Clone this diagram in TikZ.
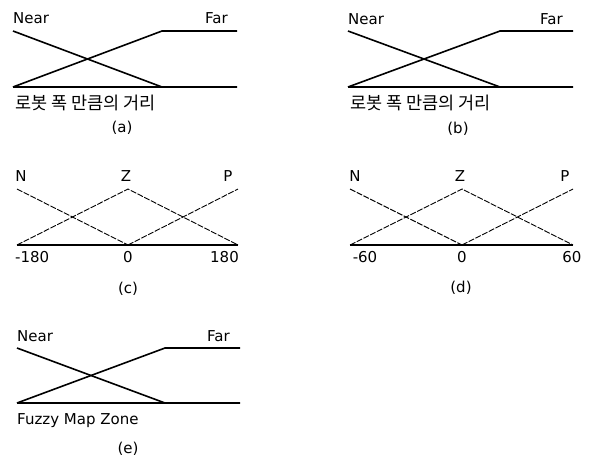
\documentclass[tikz,border=0pt]{standalone}
\usepackage{fontspec}
\setmainfont{DejaVu Sans}
\newfontfamily\kofont{Noto Sans CJK KR}
\usetikzlibrary{positioning}

\begin{document}
\begin{tikzpicture}[
    x=1pt, y=-1pt,
    lbl/.style={font=\fontsize{15}{17}\selectfont, inner sep=0pt},
    kolbl/.style={font=\kofont\fontsize{17.5}{19}\selectfont, inner sep=0pt},
    memline/.style={line width=1.6pt},
    triline/.style={line width=0.9pt, dash pattern=on 6pt off 1.5pt},
    axisline/.style={line width=1.4pt}
]
\useasboundingbox (0,0) rectangle (590,461);

% (a) Near / Far
\coordinate (a-tl) at (13,31);
\coordinate (a-bl) at (13,87);
\coordinate (a-tm) at (162,31);
\coordinate (a-bm) at (162,87);
\coordinate (a-tr) at (237,31);
\coordinate (a-br) at (237,87);
\node[lbl, anchor=base west] (a-near) at (13,23) {Near};
\node[lbl, anchor=base east] (a-far) at (228,23) {Far};
\draw[memline] (a-tl) -- (a-bm) -- (a-br);
\draw[memline] (a-bl) -- (a-tm) -- (a-tr);
\draw[memline] (a-bl) -- (a-bm);
\node[kolbl, anchor=base west] (a-dist) at (15,109) {로봇 폭 만큼의 거리};
\node[lbl, anchor=base] (a-cap) at (122,132) {(a)};

% (b) Near / Far
\coordinate (b-tl) at (348,31);
\coordinate (b-bl) at (348,87);
\coordinate (b-tm) at (500,31);
\coordinate (b-bm) at (500,87);
\coordinate (b-tr) at (573,31);
\coordinate (b-br) at (573,87);
\node[lbl, anchor=base west] (b-near) at (348,24) {Near};
\node[lbl, anchor=base east] (b-far) at (563,24) {Far};
\draw[memline] (b-tl) -- (b-bm) -- (b-br);
\draw[memline] (b-bl) -- (b-tm) -- (b-tr);
\draw[memline] (b-bl) -- (b-bm);
\node[kolbl, anchor=base west] (b-dist) at (350,109) {로봇 폭 만큼의 거리};
\node[lbl, anchor=base] (b-cap) at (458,133) {(b)};

% (c) N / Z / P, -180 .. 180
\coordinate (c-tl) at (17,189);
\coordinate (c-bl) at (17,245);
\coordinate (c-tm) at (128,189);
\coordinate (c-bm) at (128,245);
\coordinate (c-tr) at (238,189);
\coordinate (c-br) at (238,245);
\node[lbl, anchor=base] (c-n) at (21,181) {N};
\node[lbl, anchor=base] (c-z) at (126,181) {Z};
\node[lbl, anchor=base] (c-p) at (228,181) {P};
\draw[triline] (c-tl) -- (c-bm);
\draw[triline] (c-bl) -- (c-tm) -- (c-br);
\draw[triline] (c-bm) -- (c-tr);
\draw[axisline] (c-bl) -- (c-br);
\node[lbl, anchor=base west] (c-min) at (15,262) {-180};
\node[lbl, anchor=base] (c-zero) at (128,262) {0};
\node[lbl, anchor=base east] (c-max) at (239,262) {180};
\node[lbl, anchor=base] (c-cap) at (128,293) {(c)};

% (d) N / Z / P, -60 .. 60
\coordinate (d-tl) at (350,189);
\coordinate (d-bl) at (350,245);
\coordinate (d-tm) at (462,189);
\coordinate (d-bm) at (462,245);
\coordinate (d-tr) at (573,189);
\coordinate (d-br) at (573,245);
\node[lbl, anchor=base] (d-n) at (355,181) {N};
\node[lbl, anchor=base] (d-z) at (460,181) {Z};
\node[lbl, anchor=base] (d-p) at (565,181) {P};
\draw[triline] (d-tl) -- (d-bm);
\draw[triline] (d-bl) -- (d-tm) -- (d-br);
\draw[triline] (d-bm) -- (d-tr);
\draw[axisline] (d-bl) -- (d-br);
\node[lbl, anchor=base] (d-min) at (365,262) {-60};
\node[lbl, anchor=base] (d-zero) at (462,262) {0};
\node[lbl, anchor=base] (d-max) at (572,262) {60};
\node[lbl, anchor=base] (d-cap) at (461,292) {(d)};

% (e) Near / Far, Fuzzy Map Zone
\coordinate (e-tl) at (17,348);
\coordinate (e-bl) at (17,403);
\coordinate (e-tm) at (165,348);
\coordinate (e-bm) at (165,403);
\coordinate (e-tr) at (240,348);
\coordinate (e-br) at (240,403);
\node[lbl, anchor=base west] (e-near) at (17,341) {Near};
\node[lbl, anchor=base east] (e-far) at (230,341) {Far};
\draw[memline] (e-tl) -- (e-bm) -- (e-br);
\draw[memline] (e-bl) -- (e-tm) -- (e-tr);
\draw[memline] (e-bl) -- (e-bm);
\node[lbl, anchor=base west] (e-zone) at (17,424) {Fuzzy Map Zone};
\node[lbl, anchor=base] (e-cap) at (128,453) {(e)};
\end{tikzpicture}
\end{document}
